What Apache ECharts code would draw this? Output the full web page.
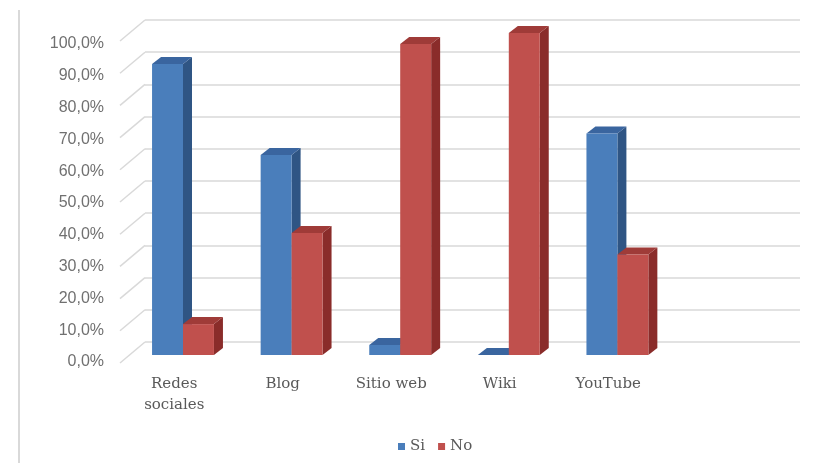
<!DOCTYPE html>
<html>
<head>
<meta charset="utf-8">
<script src="https://cdn.jsdelivr.net/npm/echarts@6/dist/echarts.min.js"></script>
<style>
  html, body { margin: 0; padding: 0; background: #ffffff; }
  #chart { width: 818px; height: 463px; }
</style>
</head>
<body>
<div id="chart"></div>
<script>
// Survey results: share of respondents per tool (percent)
const categories = ['Redes\nsociales', 'Blog', 'Sitio web', 'Wiki', 'YouTube', ''];
const seriesNames = ['Si', 'No'];
const siValues = [90.4, 62.1, 3.1, 0, 68.8];
const noValues = [9.6, 37.9, 96.6, 100, 31.2];
const yTicks = [0, 10, 20, 30, 40, 50, 60, 70, 80, 90, 100];

// Face shades for the 3D columns: front, side, top
const palette = [
  { front: '#4a7ebb', side: '#2f5584', top: '#3a659f' },
  { front: '#c0504d', side: '#8a2c2a', top: '#9f3b38' }
];
const barDepth = [9, -7];     // offset of a column's back face
const wallDepth = [25, -21];  // offset from front plane to back wall

const fmtPct = v => v.toFixed(1).replace('.', ',') + '%';

function columnRenderer(k) {
  const c = palette[k];
  return function (params, api) {
    const i = api.value(0), v = api.value(1);
    const base = api.coord([i, 0]);
    const top = api.coord([i, v]);
    const w = api.size([1, 0])[0] * 0.285;
    const x0 = base[0] + (k === 0 ? -w : 0);
    const x1 = x0 + w;
    const [dx, dy] = barDepth;
    const yt = top[1], yb = base[1];
    return {
      type: 'group',
      children: [
        { type: 'polygon', shape: { points: [[x1, yt], [x1 + dx, yt + dy], [x1 + dx, yb + dy], [x1, yb]] },
          style: { fill: c.side } },
        { type: 'polygon', shape: { points: [[x0, yt], [x0 + dx, yt + dy], [x1 + dx, yt + dy], [x1, yt]] },
          style: { fill: c.top } },
        { type: 'rect', shape: { x: x0, y: yt, width: w, height: yb - yt },
          style: { fill: c.front } }
      ]
    };
  };
}

// Side-wall lines joining each back-wall gridline to the front value axis
function sideWallRenderer(params, api) {
  const v = api.value(0);
  const p = api.coord([0, v]);
  const x = params.coordSys.x;
  return {
    type: 'line',
    shape: { x1: x, y1: p[1], x2: x - wallDepth[0], y2: p[1] - wallDepth[1] },
    style: { stroke: '#d9d9d9', lineWidth: 1.5 }
  };
}

const chart = echarts.init(document.getElementById('chart'), null, { renderer: 'canvas' });

const valueAxisBase = { type: 'value', min: 0, max: 100, interval: 10 };

chart.setOption({
  animation: false,
  backgroundColor: '#ffffff',
  graphic: [{
    type: 'line', shape: { x1: 19, y1: 10, x2: 19, y2: 463 },
    style: { stroke: '#d9d9d9', lineWidth: 2 }
  }],
  legend: {
    data: seriesNames,
    left: 393, top: 434,
    icon: 'rect', itemWidth: 7, itemHeight: 7, itemGap: 13,
    textStyle: { fontFamily: 'DejaVu Serif', fontSize: 15, color: '#595959' }
  },
  grid: [
    // back wall
    { left: 145, right: 18, top: 20, bottom: 121 },
    // columns (mid depth)
    { left: 128.7, width: 651.6, top: 33, bottom: 108 },
    // front plane with the axis labels
    { left: 120, width: 651, top: 44, bottom: 101 }
  ],
  xAxis: [
    { gridIndex: 0, type: 'category', data: categories, show: false },
    { gridIndex: 1, type: 'category', data: categories, show: false },
    { gridIndex: 2, type: 'category', data: categories,
      axisLine: { show: false }, axisTick: { show: false },
      axisLabel: { interval: 0, margin: 12, fontFamily: 'DejaVu Serif', fontSize: 15,
                   color: '#595959', lineHeight: 21 } }
  ],
  yAxis: [
    Object.assign({ gridIndex: 0, axisLabel: { show: false }, axisLine: { show: false }, axisTick: { show: false },
      splitLine: { lineStyle: { color: '#d9d9d9', width: 1.5 } } }, valueAxisBase),
    Object.assign({ gridIndex: 1, show: false, splitLine: { show: false } }, valueAxisBase),
    Object.assign({ gridIndex: 2, axisLine: { show: false }, axisTick: { show: false }, splitLine: { show: false },
      axisLabel: { margin: 16, fontFamily: 'Liberation Sans', fontSize: 16, color: '#707070',
                   formatter: v => fmtPct(v) } }, valueAxisBase)
  ],
  series: [
    {
      type: 'custom', name: 'walls', xAxisIndex: 0, yAxisIndex: 0,
      renderItem: sideWallRenderer, data: yTicks.map(v => [v]), silent: true
    },
    {
      type: 'custom', name: seriesNames[0], xAxisIndex: 1, yAxisIndex: 1,
      itemStyle: { color: palette[0].front },
      renderItem: columnRenderer(0), encode: { x: 0, y: 1 },
      data: siValues.map((v, i) => [i, v])
    },
    {
      type: 'custom', name: seriesNames[1], xAxisIndex: 1, yAxisIndex: 1,
      itemStyle: { color: palette[1].front },
      renderItem: columnRenderer(1), encode: { x: 0, y: 1 },
      data: noValues.map((v, i) => [i, v])
    }
  ]
});
</script>
</body>
</html>
